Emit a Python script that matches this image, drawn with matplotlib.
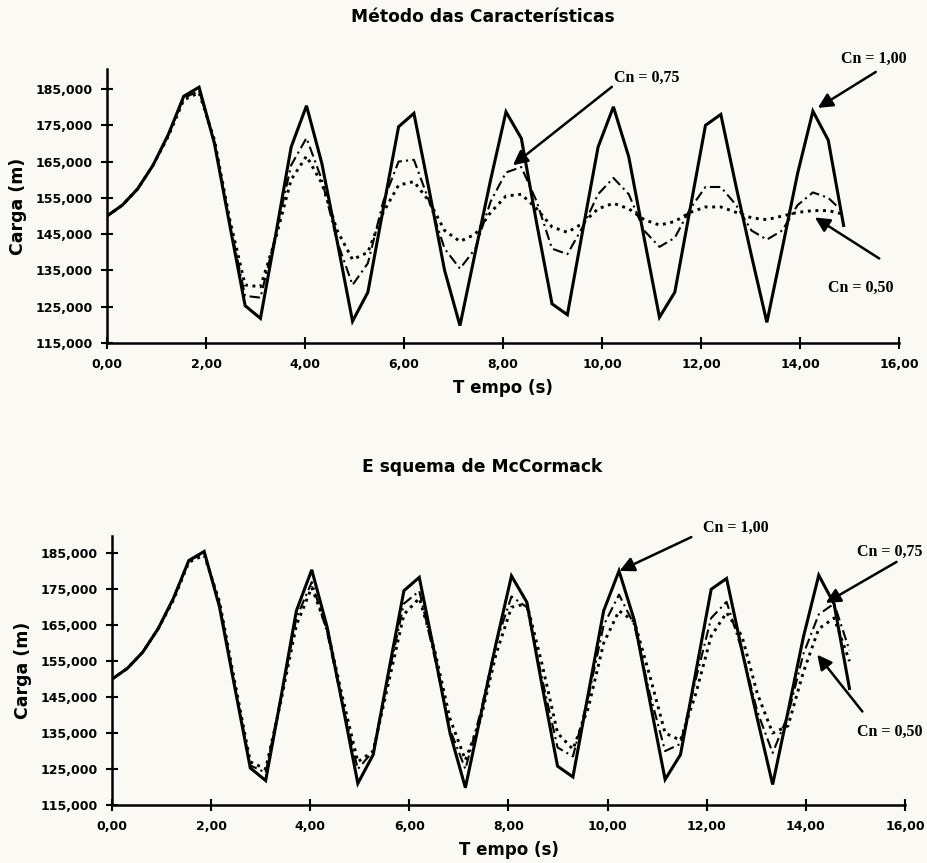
import matplotlib
matplotlib.use("Agg")
import matplotlib.pyplot as plt
from matplotlib.ticker import FuncFormatter

# tempo (s), passo ~0,31 s
tempo = [0.00, 0.31, 0.62, 0.93, 1.24, 1.55, 1.86, 2.17, 2.48, 2.79,
         3.10, 3.41, 3.72, 4.03, 4.34, 4.65, 4.96, 5.27, 5.58, 5.89,
         6.20, 6.51, 6.82, 7.13, 7.44, 7.75, 8.06, 8.37, 8.68, 8.99,
         9.30, 9.61, 9.92, 10.23, 10.54, 10.85, 11.16, 11.47, 11.78, 12.09,
         12.40, 12.71, 13.02, 13.33, 13.64, 13.95, 14.26, 14.57, 14.88]

# Metodo das Caracteristicas
moc_cn100 = [150, 153, 157.5, 164, 172.5, 183, 185.5, 170, 147.5, 125.3,
             121.8, 145, 169, 180.4, 164.5, 143, 121, 129, 152, 174.6,
             178.3, 157, 135, 119.8, 140, 160, 178.7, 171.4, 148, 125.8,
             122.8, 146, 169, 180.1, 166.3, 144, 122.1, 129, 152, 175,
             178, 158, 139, 120.7, 141, 161.7, 178.9, 170.9, 147.4]
moc_cn075 = [150, 153, 157.5, 164, 172.5, 182.5, 184.5, 170.5, 148, 128,
             127.5, 145, 164, 171.5, 160, 143, 131, 137, 154, 165,
             165.5, 154, 141, 135.5, 141, 154, 162, 163.5, 154, 141,
             139.5, 147, 156, 160.5, 156, 146, 141.5, 144, 152, 158,
             158, 153, 146, 143.5, 146, 153, 156.5, 155, 151]
moc_cn050 = [150, 153, 157.5, 164, 172, 182, 184, 171, 149, 131,
             130.5, 144, 160, 166.5, 159, 146, 138, 140, 151, 158.5,
             159.5, 154, 146, 143, 145, 151, 155.5, 156, 152, 147,
             145.5, 148, 152, 153.5, 152, 149, 147.5, 148.5, 151, 152.5,
             152.5, 151, 149.5, 149, 150, 151, 151.5, 151.5, 150.5]

# Esquema de McCormack
mcc_cn100 = moc_cn100
mcc_cn075 = [150, 153, 157.5, 164, 172.5, 183, 185, 171, 148, 126,
             124, 145, 167, 177, 163, 143, 125, 130, 151, 171,
             174.5, 156, 136, 125, 141, 160, 173, 170, 150, 131,
             128.5, 145, 165, 173.5, 165, 146, 130, 132, 150, 167,
             171.5, 158, 141, 129.5, 140, 157, 168, 171, 158]
mcc_cn050 = [150, 153, 157.5, 164, 172, 182.5, 184.5, 171.5, 149, 127,
             125, 144, 165, 175.5, 164, 145, 127, 130, 149, 168,
             172.5, 158, 139, 127.5, 139, 157, 170, 171, 154, 135,
             130.5, 142, 160, 169, 166, 151, 135, 133, 146, 162,
             168.5, 162, 146, 135, 137, 152, 164, 167, 155]

yticks = [115, 125, 135, 145, 155, 165, 175, 185]
xticks = [0, 2, 4, 6, 8, 10, 12, 14, 16]

bg = "#faf9f4"
sans = "DejaVu Sans"
serif = "Liberation Serif"

fig = plt.figure(figsize=(9.28, 8.63), dpi=100, facecolor=bg)


def make_axes(rect, title, title_y, s100, s075, s050):
    ax = fig.add_axes(rect, facecolor=bg)
    ax.plot(tempo, s100, color="black", lw=2.2, solid_joinstyle="miter")
    ax.plot(tempo, s075, color="black", lw=1.5, linestyle=(0, (5, 2, 1, 2)))
    ax.plot(tempo, s050, color="black", lw=2.1, linestyle=(0, (1, 1.6)))
    ax.set_xlim(0, 16)
    ax.set_ylim(115, 190.5)
    ax.spines["top"].set_visible(False)
    ax.spines["right"].set_visible(False)
    for s in ("left", "bottom"):
        ax.spines[s].set_linewidth(1.8)
    ax.set_xticks(xticks)
    ax.set_yticks(yticks)
    ax.tick_params(direction="inout", length=9, width=1.5, labelsize=9, pad=6)
    ax.xaxis.set_major_formatter(FuncFormatter(lambda v, p: f"{v:.2f}".replace(".", ",")))
    ax.yaxis.set_major_formatter(FuncFormatter(lambda v, p: f"{v:.3f}".replace(".", ",")))
    for lab in ax.get_xticklabels() + ax.get_yticklabels():
        lab.set_fontweight("bold")
        lab.set_family(sans)
    ax.set_xlabel("T empo (s)", fontsize=12, fontweight="bold", family=sans, labelpad=6)
    ax.set_ylabel("Carga (m)", fontsize=12.5, fontweight="bold", family=sans, labelpad=6)
    fig.text(0.52, title_y, title, ha="center", va="center", fontsize=12.3,
             fontweight="bold", family=sans)
    return ax


def label(ax, txt, tx, ty, start, tip):
    ax.text(tx, ty, txt, ha="center", va="center", fontsize=11.5,
            fontweight="bold", family=serif, clip_on=False)
    ax.annotate("", xy=tip, xytext=start, annotation_clip=False,
                arrowprops=dict(arrowstyle="-|>", color="black", lw=1.8,
                                mutation_scale=22, shrinkA=0, shrinkB=0))


ax1 = make_axes([0.1153, 0.6025, 0.8535, 0.3175], "Método das Características", 0.98,
                moc_cn100, moc_cn075, moc_cn050)
label(ax1, "Cn = 1,00", 15.5, 193.3, (15.53, 189.7), (14.36, 179.8))
label(ax1, "Cn = 0,75", 10.9, 188.0, (10.2, 185.6), (8.2, 164.0))
label(ax1, "Cn = 0,50", 15.23, 130.3, (15.6, 138.3), (14.3, 149.6))

ax2 = make_axes([0.1207, 0.0672, 0.8545, 0.3117], "E squema de McCormack", 0.459,
                mcc_cn100, mcc_cn075, mcc_cn050)
ax2.set_ylim(115, 189.8)
label(ax2, "Cn = 1,00", 12.58, 192.0, (11.69, 189.5), (10.24, 180.1))
label(ax2, "Cn = 0,75", 15.69, 185.4, (15.83, 182.6), (14.4, 171.2))
label(ax2, "Cn = 0,50", 15.69, 135.4, (15.14, 141.0), (14.23, 156.8))

fig.savefig("out.png", dpi=100, facecolor=bg)
